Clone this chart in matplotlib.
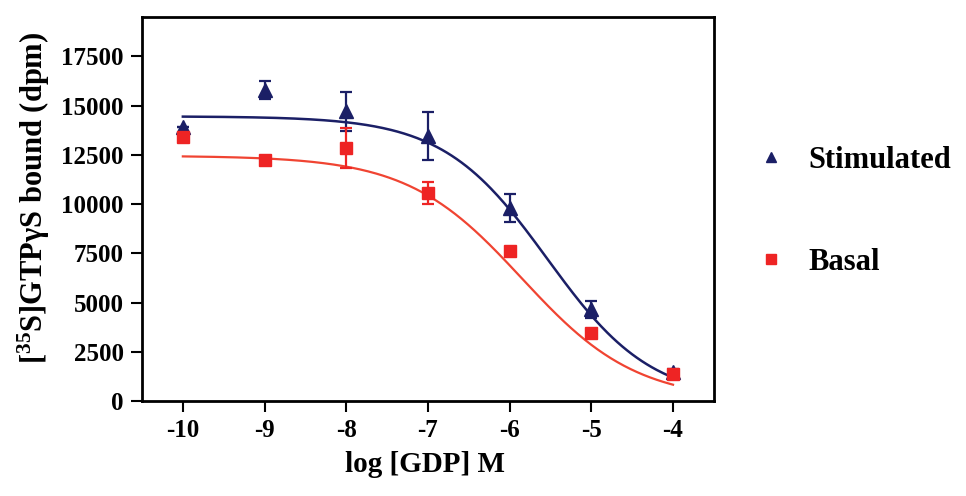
import numpy as np
import matplotlib
matplotlib.use('Agg')
import matplotlib.pyplot as plt
from matplotlib.lines import Line2D

log_gdp = [-10, -9, -8, -7, -6, -5, -4]
stim_mean = [13900, 15800, 14700, 13450, 9800, 4650, 1450]
stim_sem = [0, 450, 1000, 1200, 700, 450, 150]
basal_mean = [13400, 12250, 12850, 10550, 7600, 3450, 1350]
basal_sem = [0, 0, 1000, 550, 0, 0, 0]

# sigmoidal dose-response fits: top, bottom, logEC50, hill slope
stim_fit = (14450, 0, -5.54, 0.68)
basal_fit = (12450, 0, -5.85, 0.62)

plt.rcParams['font.family'] = ['Liberation Serif', 'DejaVu Serif']
plt.rcParams['font.weight'] = 'bold'
plt.rcParams['axes.labelweight'] = 'bold'
plt.rcParams['axes.unicode_minus'] = False
plt.rcParams['mathtext.fontset'] = 'custom'
plt.rcParams['mathtext.rm'] = 'Liberation Serif:bold'
plt.rcParams['mathtext.it'] = 'Liberation Serif:bold'
plt.rcParams['mathtext.bf'] = 'Liberation Serif:bold'

navy = '#1b1f66'
red_pt = '#ee2424'
red_ln = '#f04432'


def dose_response(x, top, bottom, logec50, hill):
    return bottom + (top - bottom) / (1 + 10 ** ((x - logec50) * hill))


fig = plt.figure(figsize=(9.66, 4.96), dpi=100)
ax = fig.add_axes([0.147, 0.1915, 0.592, 0.7745])

x_fit = np.linspace(log_gdp[0], log_gdp[-1], 300)
ax.plot(x_fit, dose_response(x_fit, *stim_fit), color=navy, lw=1.8, zorder=2)
ax.plot(x_fit, dose_response(x_fit, *basal_fit), color=red_ln, lw=1.6, zorder=2)

ax.errorbar(log_gdp, stim_mean, yerr=stim_sem, fmt='^', color=navy, ms=9.5,
            capsize=4.5, elinewidth=1.6, capthick=1.6, zorder=3)
ax.errorbar(log_gdp, basal_mean, yerr=basal_sem, fmt='s', color=red_pt, ms=8.5,
            capsize=4.5, elinewidth=1.6, capthick=1.6, zorder=3)

ax.set_xlim(-10.5, -3.5)
ax.set_ylim(0, 19500)
ax.set_xticks(log_gdp)
ax.set_yticks(range(0, 17501, 2500))
ax.tick_params(axis='both', direction='out', length=8, width=1.5, labelsize=18, pad=5)
for s in ax.spines.values():
    s.set_linewidth(2)

ax.set_ylabel(r'[$^{35}$S]GTP$\gamma$S bound (dpm)', fontsize=22)
ax.yaxis.set_label_coords(-0.158, 0.53)
ax.set_xlabel('log [GDP] M', fontsize=21)
ax.xaxis.set_label_coords(0.495, -0.13)

handles = [Line2D([], [], ls='none', marker='^', color=navy, ms=7),
           Line2D([], [], ls='none', marker='s', color=red_pt, ms=7)]
fig.legend(handles, ['Stimulated', 'Basal'], loc='center left',
           bbox_to_anchor=(0.766, 0.5736), frameon=False, fontsize=22,
           handlelength=1.0, handletextpad=0.75, labelspacing=2.38, borderpad=0)

fig.savefig('out.png', dpi=100)
